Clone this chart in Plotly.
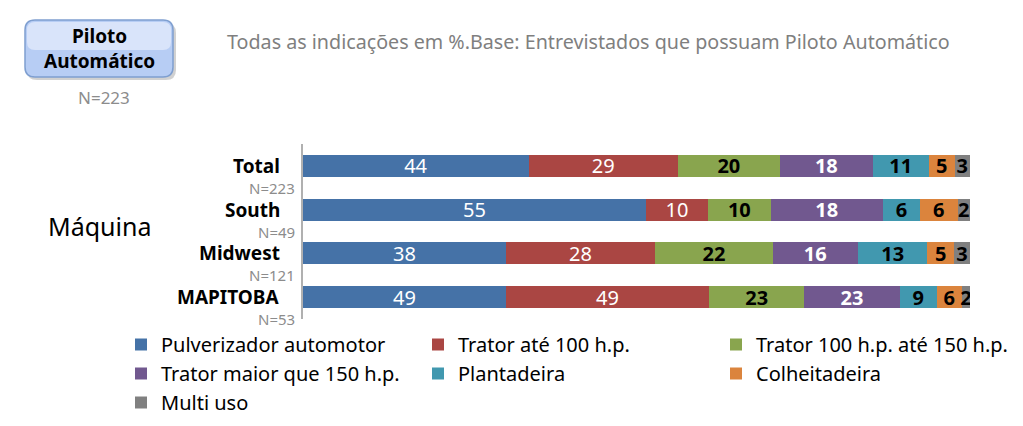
import plotly.graph_objects as go

categories = ["Total", "South", "Midwest", "MAPITOBA"]
bases = ["N=223", "N=49", "N=121", "N=53"]
series_names = ["Pulverizador automotor", "Trator até 100 h.p.", "Trator 100 h.p. até 150 h.p.",
                "Trator maior que 150 h.p.", "Plantadeira", "Colheitadeira", "Multi uso"]
pulverizador = [44, 55, 38, 49]
trator_100 = [29, 10, 28, 49]
trator_100_150 = [20, 10, 22, 23]
trator_150 = [18, 18, 16, 23]
plantadeira = [11, 6, 13, 9]
colheitadeira = [5, 6, 5, 6]
multi_uso = [3, 2, 3, 2]
series_values = [pulverizador, trator_100, trator_100_150, trator_150, plantadeira, colheitadeira, multi_uso]

colors = ["#4572a7", "#aa4643", "#89a54e", "#71588f", "#4198af", "#db843d", "#808080"]
text_colors = ["white", "white", "black", "white", "black", "black", "black"]
text_weights = ["normal", "normal", "bold", "bold", "bold", "bold", "bold"]
legend_ids = ["legend", "legend2", "legend3", "legend", "legend2", "legend3", "legend"]

FONT = "Noto Sans, Open Sans, sans-serif"

W, H = 1023, 426
L, R, T, B = 303, 970, 144, 319

def px2x(px):
    return (px - L) / (R - L)

def py2y(py):
    return (B - py) / (B - T)

fig = go.Figure()
for name, vals, c, tc, tw, lg in zip(series_names, series_values, colors, text_colors, text_weights, legend_ids):
    fig.add_trace(go.Bar(
        y=categories, x=vals, name=name, orientation="h", legend=lg,
        marker=dict(color=c, line=dict(width=0)),
        text=vals, texttemplate="%{text}", textposition="inside", textangle=0,
        insidetextanchor="middle", constraintext="none",
        textfont=dict(color=tc, size=20, family=FONT, weight=tw),
        hoverinfo="skip",
    ))

annotations = []
for cat, n in zip(categories, bases):
    annotations.append(dict(x=px2x(282), xref="paper", y=cat, yref="y", text="<b>" + cat + "</b>",
                            showarrow=False, xanchor="right", yanchor="middle",
                            font=dict(size=19, color="black", family=FONT)))
    annotations.append(dict(x=px2x(297), xref="paper", y=cat, yref="y", text=n, yshift=-22,
                            showarrow=False, xanchor="right", yanchor="middle",
                            font=dict(size=15, color="#8c8c8c", family=FONT)))

annotations.append(dict(x=px2x(99), xref="paper", y=py2y(226), yref="paper", text="Máquina",
                        showarrow=False, xanchor="center", yanchor="middle",
                        font=dict(size=25, color="black", family=FONT)))
annotations.append(dict(x=px2x(225), xref="paper", y=py2y(42), yref="paper",
                        text="Todas as indicações em %.Base: Entrevistados que possuam Piloto Automático",
                        showarrow=False, xanchor="left", yanchor="middle",
                        font=dict(size=19.7, color="#7f7f7f", family=FONT)))
annotations.append(dict(x=px2x(99), xref="paper", y=py2y(48), yref="paper",
                        text="<b>Piloto</b><br><b>Automático</b>", align="center",
                        showarrow=False, xanchor="center", yanchor="middle",
                        font=dict(size=19, color="black", family=FONT)))
annotations.append(dict(x=px2x(104), xref="paper", y=py2y(97), yref="paper", text="N=223",
                        showarrow=False, xanchor="center", yanchor="middle",
                        font=dict(size=17, color="#8c8c8c", family=FONT)))

# rounded box with a simple two-tone gradient look
def rounded(px0, px1, py0, py1, r=10):
    x0, x1, y0, y1 = px2x(px0), px2x(px1), py2y(py1), py2y(py0)
    rx, ry = r / (R - L), r / (B - T)
    return (f"M {x0+rx},{y1} L {x1-rx},{y1} Q {x1},{y1} {x1},{y1-ry} "
            f"L {x1},{y0+ry} Q {x1},{y0} {x1-rx},{y0} L {x0+rx},{y0} "
            f"Q {x0},{y0} {x0},{y0+ry} L {x0},{y1-ry} Q {x0},{y1} {x0+rx},{y1} Z")

shapes = [
    dict(type="path", path=rounded(27, 176, 23, 80), xref="paper", yref="paper",
         fillcolor="rgba(0,0,0,0.18)", line=dict(width=0), layer="below"),
    dict(type="path", path=rounded(25, 173, 20, 77), xref="paper", yref="paper",
         fillcolor="#b7cdf4", line=dict(color="#7f9fd0", width=1.5), layer="below"),
    dict(type="path", path=rounded(27, 171, 22, 50, r=8), xref="paper", yref="paper",
         fillcolor="#d9e4fa", line=dict(width=0), layer="below"),
]

leg_common = dict(orientation="v", yanchor="top", xanchor="left", traceorder="normal",
                  font=dict(size=20, color="black", family=FONT), itemwidth=30,
                  bgcolor="rgba(0,0,0,0)", tracegroupgap=0)
leg_y = py2y(325)

fig.update_layout(
    width=W, height=H,
    margin=dict(l=L, r=W - R, t=T, b=H - B, pad=0, autoexpand=False),
    barmode="stack", barnorm="percent", bargap=0.5,
    plot_bgcolor="white", paper_bgcolor="white",
    xaxis=dict(range=[0, 100], visible=False, fixedrange=True),
    yaxis=dict(autorange=False, range=[3.5, -0.5], showticklabels=False, ticks="",
               showgrid=False, zeroline=False, showline=True, linecolor="#b0b0b0", linewidth=1.5),
    uniformtext=dict(minsize=20, mode="show"),
    showlegend=True,
    legend=dict(x=px2x(121), y=leg_y, **leg_common),
    legend2=dict(x=px2x(418), y=leg_y, **leg_common),
    legend3=dict(x=px2x(716), y=leg_y, **leg_common),
    annotations=annotations,
    shapes=shapes,
    font=dict(family=FONT),
)

fig.write_html("out.html", config={"displayModeBar": False},
               post_script="document.body.style.margin='0';")
